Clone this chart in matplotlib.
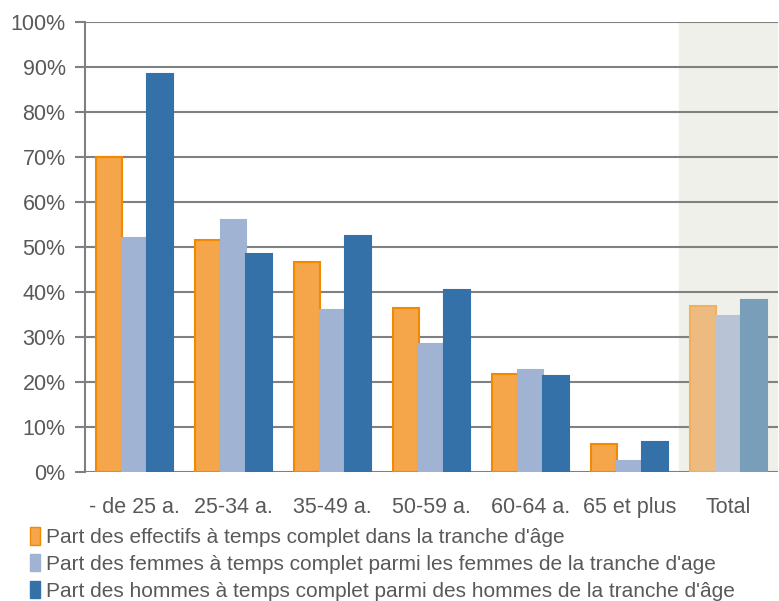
import numpy as np
import matplotlib.pyplot as plt
from matplotlib.patches import Patch

categories = ["- de 25 a.", "25-34 a.", "35-49 a.", "50-59 a.", "60-64 a.", "65 et plus", "Total"]
part_effectifs = [70.0, 51.5, 46.6, 36.4, 21.8, 6.3, 36.9]
part_femmes = [52.0, 56.0, 36.0, 28.4, 22.7, 2.4, 34.7]
part_hommes = [88.4, 48.5, 52.5, 40.5, 21.4, 6.7, 38.3]
legend_labels = [
    "Part des effectifs à temps complet dans la tranche d'âge",
    "Part des femmes à temps complet parmi les femmes de la tranche d'age",
    "Part des hommes à temps complet parmi des hommes de la tranche d'âge",
]

plt.rcParams['font.family'] = ['Liberation Sans', 'DejaVu Sans']
txt = '#595959'

fig = plt.figure(figsize=(7.79, 6.01), dpi=100)
ax = fig.add_axes([85/779, 1-472/601, 693/779, 450/601])

x = np.arange(len(categories))
w = 0.26
n = len(categories)

# normal colours, then pale ones for the Total column
fills = [['#F5A54A'] * (n-1) + ['#EDBB80'],
         ['#A0B3D3'] * (n-1) + ['#B8C4D6'],
         ['#3471A8'] * (n-1) + ['#789EB9']]
edges = [['#F08A00'] * (n-1) + ['#F0B060'],
         ['#A0B3D3'] * (n-1) + ['#B8C4D6'],
         ['#3471A8'] * (n-1) + ['#789EB9']]
series = [part_effectifs, part_femmes, part_hommes]
offsets = [-w, 0, w]
for s, off, fc, ec in zip(series, offsets, fills, edges):
    ax.bar(x + off, s, w, color=fc, edgecolor=ec, linewidth=1.5, zorder=3)

ax.axvspan(n-1.5, n-0.5, color='#F0F0EB', zorder=0)

ax.set_xlim(-0.5, n-0.5)
ax.set_ylim(0, 100)
ax.set_yticks(np.arange(0, 101, 10))
ax.set_yticklabels([f"{v}%" for v in range(0, 101, 10)])
ax.set_xticks(x)
ax.set_xticklabels(categories)
ax.grid(axis='y', color='#808080', linewidth=1.5, zorder=1)
for sp in ['top', 'right', 'bottom']:
    ax.spines[sp].set_visible(False)
ax.spines['left'].set_color('#808080')
ax.spines['left'].set_linewidth(1.5)
ax.tick_params(axis='y', colors='#808080', labelcolor=txt, labelsize=15.5, length=7, width=1.5, pad=7)
ax.tick_params(axis='x', length=0, labelcolor=txt, labelsize=15.5, pad=18)

handles = [Patch(facecolor='#F5A54A', edgecolor='#F08A00'),
           Patch(facecolor='#A0B3D3', edgecolor='#A0B3D3'),
           Patch(facecolor='#3471A8', edgecolor='#3471A8')]
fig.legend(handles, legend_labels, loc='upper left', bbox_to_anchor=(22/779, 1-519/601),
           frameon=False, fontsize=15, labelcolor=txt, handlelength=0.45, handleheight=0.9,
           handletextpad=0.3, labelspacing=0.33, borderaxespad=0)

fig.savefig('out.png', dpi=100)
